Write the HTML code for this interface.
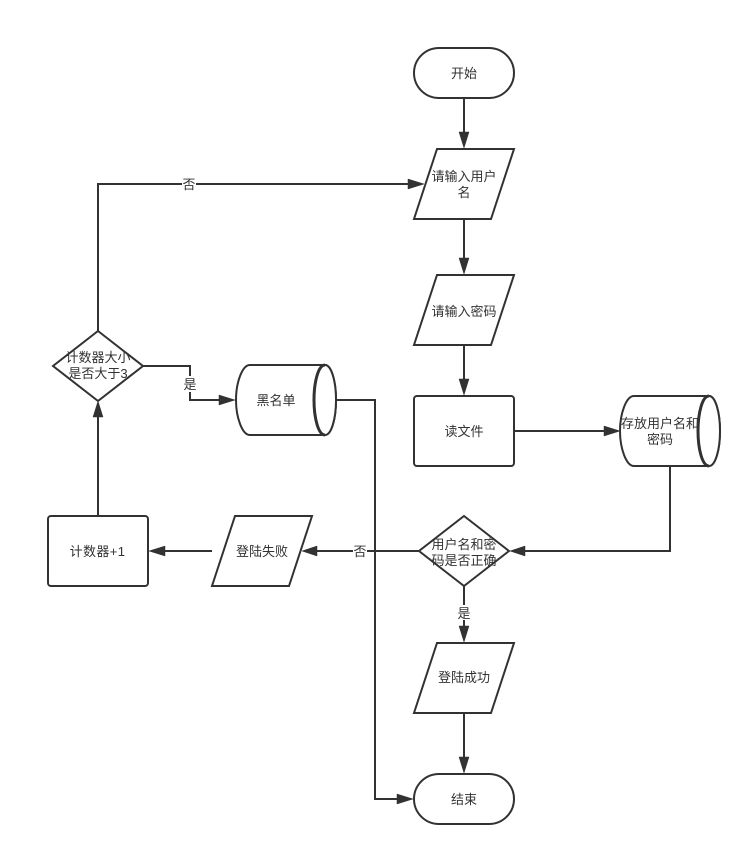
<!DOCTYPE html>
<html><head><meta charset="utf-8">
<style>
html,body{margin:0;padding:0;background:#fff;width:752px;height:856px;overflow:hidden}
svg{display:block}
text{font-family:"Liberation Sans","WenQuanYi Zen Hei","Noto Sans CJK SC",sans-serif;font-size:13px;fill:#323232;text-anchor:middle}
.s{fill:#fff;stroke:#323232;stroke-width:2}
.l{fill:none;stroke:#323232;stroke-width:2}
.a{fill:#323232;stroke:#323232;stroke-width:.5}
.t{fill:none;stroke:#323232;stroke-width:3}
</style></head>
<body>
<svg width="752" height="856" viewBox="0 0 752 856" xmlns="http://www.w3.org/2000/svg">
<!-- connectors -->
<path class="l" d="M464 98V134M464 219V260M464 345V380M464 586V628M464 713V759M514 431H605M670 466V551H525M419 551H317M212 551H163M98 516V416M98 331V184H410M143 366H190V400H221M337 400H375V799H398"/>
<!-- arrowheads -->
<path class="a" d="M459 132L464 148L469 132Z"/>
<path class="a" d="M459 258L464 274L469 258Z"/>
<path class="a" d="M459 379L464 395L469 379Z"/>
<path class="a" d="M459 626L464 642L469 626Z"/>
<path class="a" d="M459 757L464 773L469 757Z"/>
<path class="a" d="M604 426L620 431L604 436Z"/>
<path class="a" d="M525 546L510 551L525 556Z"/>
<path class="a" d="M317 546L302 551L317 556Z"/>
<path class="a" d="M165 546L149 551L165 556Z"/>
<path class="a" d="M93 417L98 401L103 417Z"/>
<path class="a" d="M408 179L424 184L408 189Z"/>
<path class="a" d="M219 395L235 400L219 405Z"/>
<path class="a" d="M397 794L413 799L397 804Z"/>
<!-- nodes -->
<rect class="s" x="414" y="48" width="100" height="50" rx="25"/>
<path class="s" d="M437 149H514L491 219H414Z"/>
<path class="s" d="M437 275H514L491 345H414Z"/>
<rect class="s" x="414" y="396" width="100" height="70" rx="3"/>
<path class="s" d="M634 396H709C716 396 720 414 720 431C720 448 716 466 709 466H634C626 466 620 448 620 431C620 414 626 396 634 396Z"/>
<ellipse class="s" cx="709" cy="431" rx="11" ry="35"/>
<path class="t" d="M709 396C702 396 698 414 698 431C698 448 702 466 709 466"/>
<path class="s" d="M464 516L509 551L464 586L419 551Z"/>
<path class="s" d="M437 643H514L491 713H414Z"/>
<rect class="s" x="414" y="774" width="100" height="50" rx="25"/>
<path class="s" d="M250 365H325C332 365 336 383 336 400C336 417 332 435 325 435H250C242 435 236 417 236 400C236 383 242 365 250 365Z"/>
<ellipse class="s" cx="325" cy="400" rx="11" ry="35"/>
<path class="t" d="M325 365C318 365 314 383 314 400C314 417 318 435 325 435"/>
<path class="s" d="M98 331L143 366L98 401L53 366Z"/>
<rect class="s" x="48" y="516" width="100" height="70" rx="3"/>
<path class="s" d="M235 516H312L289 586H212Z"/>
<!-- connector label backgrounds -->
<rect x="182" y="176" width="14" height="16" fill="#fff"/>
<rect x="183" y="376" width="14" height="16" fill="#fff"/>
<rect x="353" y="543" width="14" height="16" fill="#fff"/>
<rect x="457" y="605" width="15" height="15" fill="#fff"/>
<!-- labels -->
<text x="464" y="78">开始</text>
<text x="464" y="181">请输入用户</text>
<text x="464" y="197">名</text>
<text x="464" y="316">请输入密码</text>
<text x="464" y="436">读文件</text>
<text x="660" y="428">存放用户名和</text>
<text x="660" y="444">密码</text>
<text x="464" y="549">用户名和密</text>
<text x="464" y="565">码是否正确</text>
<text x="464" y="682">登陆成功</text>
<text x="464" y="804">结束</text>
<text x="276" y="405">黑名单</text>
<text x="98" y="362">计数器大小</text>
<text x="98" y="378">是否大于3</text>
<text x="97.5" y="556" style="letter-spacing:.4px">计数器+1</text>
<text x="262" y="556">登陆失败</text>
<text x="189" y="189">否</text>
<text x="190" y="389">是</text>
<text x="360" y="556">否</text>
<text x="464" y="618">是</text>
</svg>
</body></html>
